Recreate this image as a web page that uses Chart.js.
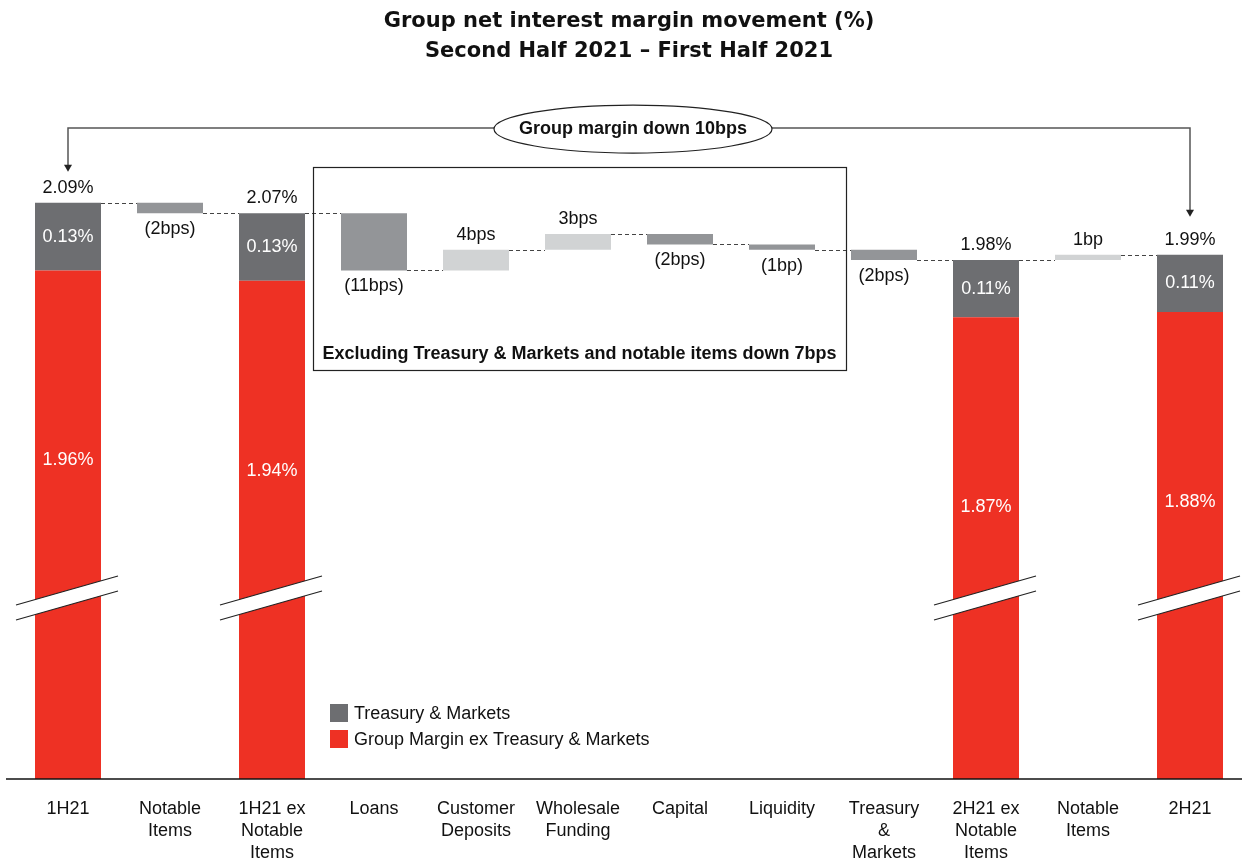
<!DOCTYPE html>
<html>
<head>
<meta charset="utf-8">
<script src="https://cdn.jsdelivr.net/npm/chart.js@4.4.1/dist/chart.umd.min.js"></script>
<style>
    body { margin: 0; background: #fff; }
    #wrap { width: 1242px; height: 860px; }
</style>
</head>
<body>
<div id="wrap"><canvas id="nimChart"></canvas></div>
<script>
// Categories (multi-line x labels)
const categories = [
    ['1H21'], ['Notable', 'Items'], ['1H21 ex', 'Notable', 'Items'], ['Loans'],
    ['Customer', 'Deposits'], ['Wholesale', 'Funding'], ['Capital'], ['Liquidity'],
    ['Treasury', '&', 'Markets'], ['2H21 ex', 'Notable', 'Items'], ['Notable', 'Items'], ['2H21']
];

// Total bars: margin ex Treasury & Markets, and Treasury & Markets (%)
const exTreasuryValues = [1.96, null, 1.94, null, null, null, null, null, null, 1.87, null, 1.88];
const treasuryValues   = [0.13, null, 0.13, null, null, null, null, null, null, 0.11, null, 0.11];

// Movements between totals (basis points)
const movementBps = [null, -2, null, -11, 4, 3, -2, -1, -2, null, 1, null];

const legendLabels = ['Treasury & Markets', 'Group Margin ex Treasury & Markets'];

const RED = '#EE3124';
const DARK = '#6D6E71';
const DOWN = '#939598';
const UP = '#D1D3D4';
const FONT = '"Liberation Sans", Arial, sans-serif';

// Build waterfall series from the values above
let level = 0;
const tmBars = [], downBars = [], upBars = [], levels = [];
categories.forEach((_, i) => {
    if (exTreasuryValues[i] !== null) {
        level = exTreasuryValues[i] + treasuryValues[i];
        tmBars.push([exTreasuryValues[i], level]);
        downBars.push(null);
        upBars.push(null);
    } else {
        const next = level + movementBps[i] / 100;
        tmBars.push(null);
        if (movementBps[i] < 0) { downBars.push([next, level]); upBars.push(null); }
        else { upBars.push([level, next]); downBars.push(null); }
        level = next;
    }
    levels.push(level);
});

function bpsText(v) {
    const unit = Math.abs(v) === 1 ? 'bp' : 'bps';
    return v < 0 ? `(${Math.abs(v)}${unit})` : `${v}${unit}`;
}

function barAt(chart, i) {
    for (let d = 0; d < chart.data.datasets.length; d++) {
        const el = chart.getDatasetMeta(d).data[i];
        if (chart.data.datasets[d].data[i] !== null && el) return el;
    }
    return null;
}

const overlay = {
    id: 'overlay',
    afterDatasetsDraw(chart) {
        const { ctx, chartArea, scales: { x, y } } = chart;
        const yb = chartArea.bottom;
        ctx.save();

        // axis baseline
        ctx.strokeStyle = '#111';
        ctx.lineWidth = 1.5;
        ctx.beginPath();
        ctx.moveTo(6, yb);
        ctx.lineTo(chart.width, yb);
        ctx.stroke();

        // axis breaks on the total bars
        categories.forEach((_, i) => {
            if (exTreasuryValues[i] === null) return;
            const cx = x.getPixelForValue(i);
            const x0 = cx - 52, x1 = cx + 50;
            ctx.fillStyle = '#fff';
            ctx.beginPath();
            ctx.moveTo(x0, yb - 174);
            ctx.lineTo(x1, yb - 203);
            ctx.lineTo(x1, yb - 188);
            ctx.lineTo(x0, yb - 159);
            ctx.closePath();
            ctx.fill();
            ctx.strokeStyle = '#222';
            ctx.lineWidth = 1.2;
            ctx.beginPath();
            ctx.moveTo(x0, yb - 174); ctx.lineTo(x1, yb - 203);
            ctx.moveTo(x0, yb - 159); ctx.lineTo(x1, yb - 188);
            ctx.stroke();
        });

        // dashed connectors
        ctx.strokeStyle = '#444';
        ctx.lineWidth = 1.2;
        ctx.setLineDash([4, 3]);
        for (let i = 0; i < categories.length - 1; i++) {
            const a = barAt(chart, i), b = barAt(chart, i + 1);
            const py = Math.round(y.getPixelForValue(levels[i])) + 0.5;
            ctx.beginPath();
            ctx.moveTo(a.x + a.width / 2, py);
            ctx.lineTo(b.x - b.width / 2, py);
            ctx.stroke();
        }
        ctx.setLineDash([]);

        // value labels
        ctx.textAlign = 'center';
        ctx.textBaseline = 'middle';
        ctx.font = `18px ${FONT}`;
        categories.forEach((_, i) => {
            const cx = x.getPixelForValue(i);
            if (exTreasuryValues[i] !== null) {
                const top = y.getPixelForValue(levels[i]);
                const mid = y.getPixelForValue(exTreasuryValues[i]);
                ctx.fillStyle = '#111';
                ctx.fillText(`${levels[i].toFixed(2)}%`, cx, top - 15);
                ctx.fillStyle = '#fff';
                ctx.fillText(`${treasuryValues[i].toFixed(2)}%`, cx, (top + mid) / 2);
                ctx.fillText(`${exTreasuryValues[i].toFixed(2)}%`, cx, mid + 190);
            } else {
                ctx.fillStyle = '#111';
                if (movementBps[i] < 0) ctx.fillText(bpsText(movementBps[i]), cx, y.getPixelForValue(levels[i]) + 16);
                else ctx.fillText(bpsText(movementBps[i]), cx, y.getPixelForValue(levels[i]) - 15);
            }
        });

        // bracket with arrows: 1H21 -> 2H21
        const xl = x.getPixelForValue(0), xr = x.getPixelForValue(categories.length - 1);
        const by = chartArea.top + 40;
        const tipL = y.getPixelForValue(levels[0]) - 31;
        const tipR = y.getPixelForValue(levels[levels.length - 1]) - 38;
        ctx.strokeStyle = '#555';
        ctx.lineWidth = 1.5;
        ctx.beginPath();
        ctx.moveTo(xl, tipL - 6);
        ctx.lineTo(xl, by);
        ctx.lineTo(xr, by);
        ctx.lineTo(xr, tipR - 6);
        ctx.stroke();
        ctx.fillStyle = '#222';
        [[xl, tipL], [xr, tipR]].forEach(([ax, ay]) => {
            ctx.beginPath();
            ctx.moveTo(ax - 4, ay - 7);
            ctx.lineTo(ax + 4, ay - 7);
            ctx.lineTo(ax, ay);
            ctx.closePath();
            ctx.fill();
        });

        // ellipse callout
        const ex = (xl + xr) / 2 + 4;
        ctx.fillStyle = '#fff';
        ctx.strokeStyle = '#222';
        ctx.lineWidth = 1.2;
        ctx.beginPath();
        ctx.ellipse(ex, by + 1, 139, 24, 0, 0, Math.PI * 2);
        ctx.fill();
        ctx.stroke();
        ctx.fillStyle = '#111';
        ctx.font = `bold 18px ${FONT}`;
        ctx.fillText('Group margin down 10bps', ex, by + 1);

        // box around the ex-T&M movements
        const bl = x.getPixelForValue(3) - 61, br = x.getPixelForValue(8) - 38;
        const bt = chartArea.top + 79, bbot = chartArea.top + 282;
        ctx.strokeStyle = '#222';
        ctx.lineWidth = 1.2;
        ctx.strokeRect(Math.round(bl) + 0.5, Math.round(bt) + 0.5, br - bl, bbot - bt);
        ctx.fillText('Excluding Treasury & Markets and notable items down 7bps', (bl + br) / 2, bbot - 16);

        // legend
        const lx = 330, ly = yb - 75;
        [DARK, RED].forEach((c, k) => {
            ctx.fillStyle = c;
            ctx.fillRect(lx, ly + k * 26, 18, 18);
            ctx.fillStyle = '#111';
            ctx.textAlign = 'left';
            ctx.font = `18px ${FONT}`;
            ctx.fillText(legendLabels[k], lx + 24, ly + k * 26 + 10);
        });
        ctx.restore();
    }
};

new Chart(document.getElementById('nimChart'), {
    type: 'bar',
    data: {
        labels: categories,
        datasets: [
            { label: legendLabels[1], data: exTreasuryValues, backgroundColor: RED, clip: 0 },
            { label: legendLabels[0], data: tmBars, backgroundColor: DARK, clip: 0 },
            { label: 'Decrease', data: downBars, backgroundColor: DOWN, clip: 0 },
            { label: 'Increase', data: upBars, backgroundColor: UP, clip: 0 }
        ]
    },
    options: {
        responsive: true,
        maintainAspectRatio: false,
        animation: false,
        layout: { padding: { left: 17, right: 1, top: 0, bottom: 0 } },
        datasets: { bar: { categoryPercentage: 0.647, barPercentage: 1, borderWidth: 0 } },
        plugins: {
            legend: { display: false },
            tooltip: { enabled: false },
            title: {
                display: true,
                text: ['Group net interest margin movement (%)', 'Second Half 2021 \u2013 First Half 2021'],
                color: '#111',
                font: { family: '"DejaVu Sans", sans-serif', size: 21, weight: 'bold', lineHeight: 1.43 },
                padding: { top: 7, bottom: 21 }
            }
        },
        scales: {
            x: {
                stacked: true,
                grid: { display: false },
                border: { display: false },
                ticks: {
                    color: '#111',
                    font: { family: FONT, size: 18, lineHeight: 1.222 },
                    padding: 11,
                    autoSkip: false,
                    maxRotation: 0
                },
                afterFit(scale) { scale.height = 81; }
            },
            y: {
                stacked: false,
                display: false,
                min: 0.982,
                max: 2.3107
            }
        }
    },
    plugins: [overlay]
});
</script>
</body>
</html>
